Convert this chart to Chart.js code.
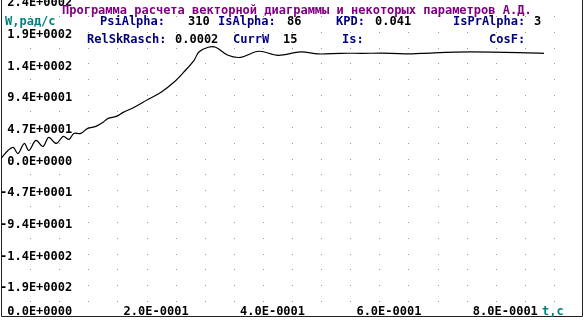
<!DOCTYPE html>
<html>
<head>
<meta charset="utf-8">
<script src="https://cdn.jsdelivr.net/npm/chart.js@4/dist/chart.umd.min.js"></script>
<style>
  html, body { margin: 0; padding: 0; background: #fff; }
  #wrap { width: 586px; height: 320px; }
</style>
</head>
<body>
<div id="wrap"><canvas id="chart"></canvas></div>
<script>
// время, с
const tValues = [0, 0.012, 0.021, 0.029, 0.040, 0.048, 0.060, 0.072, 0.082, 0.095, 0.107, 0.117,
  0.125, 0.137, 0.149, 0.163, 0.175, 0.184, 0.198, 0.210, 0.229, 0.253, 0.275, 0.297, 0.314,
  0.332, 0.340, 0.356, 0.369, 0.390, 0.412, 0.443, 0.476, 0.515, 0.545, 0.584, 0.619, 0.670,
  0.701, 0.722, 0.808, 0.933];
// скорость W, рад/с
const wValues = [0, 11.9, 16.4, 7.4, 22.3, 11.9, 26.8, 17.8, 31.2, 22.3, 32.7, 28.3,
  37.2, 37.2, 44.6, 47.6, 53.5, 59.5, 62.5, 68.4, 75.9, 87.8, 98.2, 113, 128,
  146, 158, 165, 165, 153, 150, 159, 153, 158, 155, 156, 156, 156,
  155, 156, 158, 156];

const xTicks = [0, 0.2, 0.4, 0.6, 0.8];
const yTicks = [235, 188, 141, 94, 47, 0, -47, -94, -141, -188];

const title = 'Программа расчета векторной диаграммы и некоторых параметров А.Д.';
// [текст, x, y, цвет]
const header = [
  ['W,рад/с', 5, 22, '#008080'],
  ['PsiAlpha:', 100, 22, '#000080'],
  ['310', 188, 22, '#000'],
  ['IsAlpha:', 218, 22, '#000080'],
  ['86', 287, 22, '#000'],
  ['KPD:', 336, 22, '#000080'],
  ['0.041', 375, 22, '#000'],
  ['IsPrAlpha:', 453, 22, '#000080'],
  ['3', 534, 22, '#000'],
  ['RelSkRasch:', 87, 40, '#000080'],
  ['0.0002', 175, 40, '#000'],
  ['CurrW', 233, 40, '#000080'],
  ['15', 283, 40, '#000'],
  ['Is:', 342, 40, '#000080'],
  ['CosF:', 489, 40, '#000080']
];

const FONT = 'bold 12px "DejaVu Sans Mono", "Liberation Mono", monospace';

function fmtE(v) {
  const [m, e] = v.toExponential(1).split('e');
  const ex = parseInt(e, 10);
  const s = m.replace('-', '') + 'E' + (ex < 0 ? '-' : '+') + String(Math.abs(ex)).padStart(4, '0');
  return (v < 0 ? '-' : ' ') + s;
}

const overlay = {
  id: 'overlay',
  beforeDatasetsDraw(chart) {
    const { ctx, chartArea: a, scales: { x, y } } = chart;
    ctx.save();
    // точечная сетка
    ctx.fillStyle = '#999';
    for (let tx = 0.05; tx < 1.0; tx += 0.05) {
      for (let vy = -235 + 23.5; vy < 235; vy += 23.5) {
        const px = Math.round(x.getPixelForValue(tx));
        const py = Math.round(y.getPixelForValue(vy));
        ctx.fillRect(px, py, 1, 1);
      }
    }
    // рамка
    ctx.strokeStyle = '#222';
    ctx.lineWidth = 1;
    ctx.beginPath();
    ctx.moveTo(a.left + 0.5, a.top);
    ctx.lineTo(a.left + 0.5, a.bottom - 0.5);
    ctx.lineTo(a.right - 0.5, a.bottom - 0.5);
    ctx.lineTo(a.right - 0.5, a.top);
    ctx.stroke();
    ctx.restore();
  },
  afterDatasetsDraw(chart) {
    const { ctx, scales: { x, y } } = chart;
    ctx.save();
    ctx.font = FONT;
    ctx.textBaseline = 'middle';
    ctx.textAlign = 'left';
    ctx.fillStyle = '#000';
    yTicks.forEach(v => ctx.fillText(fmtE(v), 0, y.getPixelForValue(v) + 3));
    xTicks.forEach(v => ctx.fillText(fmtE(v), x.getPixelForValue(v) - 1, 312));
    ctx.fillStyle = '#008080';
    ctx.fillText('t,c', 542, 312);
    ctx.fillStyle = '#800080';
    ctx.fillText(title, 62, 11);
    header.forEach(([s, hx, hy, c]) => {
      ctx.fillStyle = c;
      ctx.fillText(s, hx, hy);
    });
    ctx.restore();
  }
};

const points = tValues.map((t, i) => ({ x: t, y: wValues[i] }));

new Chart(document.getElementById('chart'), {
  type: 'line',
  data: {
    datasets: [{
      data: points,
      borderColor: '#000',
      borderWidth: 1.2,
      pointRadius: 0,
      tension: 0.35,
      fill: false
    }]
  },
  options: {
    responsive: true,
    maintainAspectRatio: false,
    animation: false,
    layout: { padding: { left: 1, right: 3, top: 0, bottom: 3 } },
    plugins: { legend: { display: false }, tooltip: { enabled: false } },
    scales: {
      x: { type: 'linear', min: 0, max: 1.0, display: false },
      y: { type: 'linear', min: -235, max: 235, display: false }
    }
  },
  plugins: [overlay]
});
</script>
</body>
</html>
